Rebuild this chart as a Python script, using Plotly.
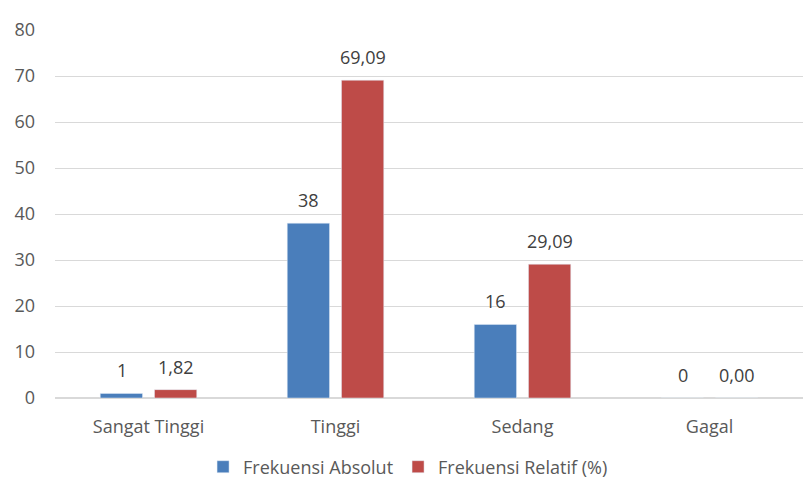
import plotly.graph_objects as go

categories = ["Sangat Tinggi", "Tinggi", "Sedang", "Gagal"]
absolut = [1, 38, 16, 0]
relatif = [1.82, 69.09, 29.09, 0.00]
absolut_labels = ["1", "38", "16", "0"]
relatif_labels = ["1,82", "69,09", "29,09", "0,00"]
y_ticks = [0, 10, 20, 30, 40, 50, 60, 70, 80]

FONT = "'Open Sans', sans-serif"
GRAY = "#595959"
LABEL = "#404040"
FS = 18

fig = go.Figure()
fig.add_trace(go.Bar(x=categories, y=absolut, name="Frekuensi Absolut",
                     marker=dict(color="#4a7ebb")))
fig.add_trace(go.Bar(x=categories, y=relatif, name="Frekuensi Relatif (%)",
                     marker=dict(color="#be4b48")))

for vals, labels, shift in ((absolut, absolut_labels, -27), (relatif, relatif_labels, 27)):
    for c, v, t in zip(categories, vals, labels):
        fig.add_annotation(x=c, y=v, text=t, showarrow=False, xshift=shift, yshift=9,
                           yanchor="bottom", font=dict(size=FS, color=LABEL, family=FONT))

fig.update_layout(
    width=803, height=481,
    paper_bgcolor="white", plot_bgcolor="white",
    margin=dict(l=55, r=0, t=30, b=83, autoexpand=False),
    barmode="group", bargap=0.42, bargroupgap=0.22,
    font=dict(family=FONT, size=FS, color=GRAY),
    showlegend=True,
    legend=dict(orientation="h", x=0.472, xanchor="center", y=-0.1875, yanchor="middle",
                font=dict(size=FS, color=GRAY), traceorder="normal"),
)
fig.update_yaxes(range=[0, 80], tickvals=y_ticks, showgrid=True, gridcolor="#d9d9d9",
                 gridwidth=1, zeroline=True, zerolinecolor="#d9d9d9", showline=False,
                 ticks="", ticklabelstandoff=19, tickfont=dict(size=FS, color=GRAY),
                 automargin=False)
fig.update_xaxes(showline=False, ticks="", ticklabelstandoff=16,
                 tickfont=dict(size=FS, color=GRAY), automargin=False)

fig.write_html("out.html", config={"displayModeBar": False},
               post_script="document.body.style.margin='0';")
